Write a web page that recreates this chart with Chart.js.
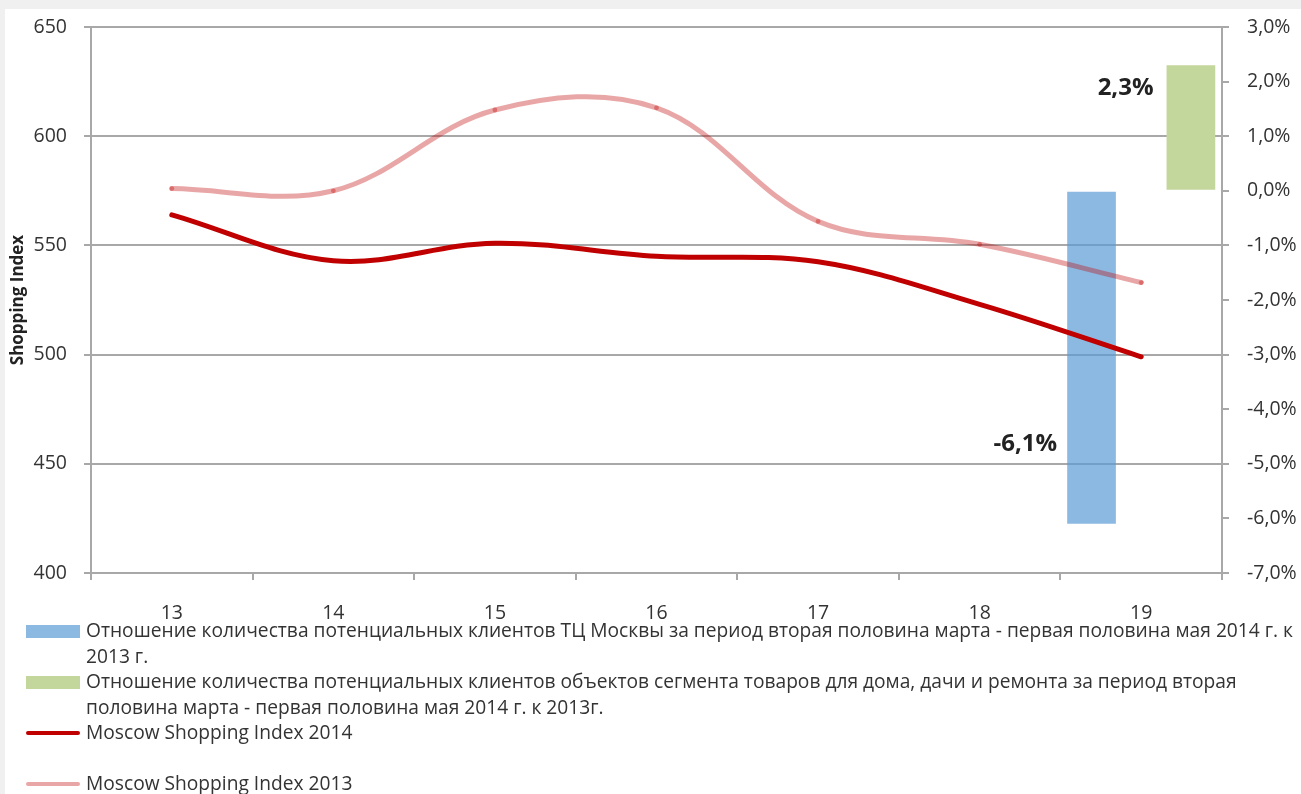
<!DOCTYPE html>
<html><head><meta charset="utf-8">
<script src="https://cdn.jsdelivr.net/npm/chart.js@4.4.1/dist/chart.umd.min.js"></script>
<style>
html,body{margin:0;padding:0;background:#f0f0f0;width:1301px;height:794px;overflow:hidden;font-family:"Open Sans",sans-serif;}
#panel{position:absolute;left:5px;top:9px;right:0;bottom:0;background:#fff;}
#wrap{position:absolute;left:0;top:0;width:1301px;height:620px;}
#legend{position:absolute;left:0;top:0;width:1301px;height:794px;}
.sw{position:absolute;left:26px;width:54px;}
.lt{position:absolute;left:86px;top:617px;font-size:19.2px;line-height:25.5px;color:#333;white-space:nowrap;}
</style></head>
<body>
<div id="panel"></div>
<div id="wrap"><canvas id="c" width="1301" height="620" style="width:1301px;height:620px"></canvas></div>
<div id="legend"></div>
<script>
// ---- data ----
const categories = ['13', '14', '15', '16', '17', '18', '19'];
const msi2014 = [564, 543, 551, 545, 542.5, 523, 499];
const msi2013 = [576, 575, 612, 613, 561, 550.5, 533];
const ratioMoscow = [null, null, null, null, null, null, -6.1];
const ratioHome = [null, null, null, null, null, null, 2.3];
const leftTicks = [400, 450, 500, 550, 600, 650];
const rightTicks = [-7, -6, -5, -4, -3, -2, -1, 0, 1, 2, 3];
const seriesNames = [
  'Отношение количества потенциальных клиентов ТЦ Москвы за период вторая половина марта - первая половина мая 2014 г. к 2013 г.',
  'Отношение количества потенциальных клиентов объектов сегмента товаров для дома, дачи и ремонта за период вторая половина марта - первая половина мая 2014 г. к 2013г.',
  'Moscow Shopping Index 2014',
  'Moscow Shopping Index 2013'
];
const yTitle = 'Shopping Index';

// ---- styles ----
const FONT = '"Open Sans", sans-serif';
const GRID = '#a8a8a8';
const TXT = '#333333';
const blue = 'rgba(91,155,213,0.7)';
const green = '#c3d69b';
const red = '#c00000';
const pink = 'rgba(192,0,0,0.35)';

const fmtPct = v => v.toFixed(1).replace('.', ',') + '%';

const barLabelPlugin = {
  id: 'barLabels',
  afterDatasetsDraw(chart, args, opts) {
    const ctx = chart.ctx;
    const y1 = chart.scales.y1;
    ctx.save();
    ctx.font = 'bold 24px ' + FONT;
    ctx.fillStyle = '#222';
    ctx.textAlign = 'right';
    ctx.textBaseline = 'alphabetic';
    opts.items.forEach(it => {
      const meta = chart.getDatasetMeta(it.dataset);
      const ds = chart.data.datasets[it.dataset];
      meta.data.forEach((el, i) => {
        const v = ds.data[i];
        if (v === null || v === undefined) return;
        const x = el.x - el.width / 2 - it.gap;
        const y = y1.getPixelForValue(it.at) + 8.6;
        ctx.fillText(fmtPct(v), x, y);
      });
    });
    ctx.restore();
  }
};

new Chart(document.getElementById('c'), {
  data: {
    labels: categories,
    datasets: [
      { type: 'line', label: seriesNames[2], data: msi2014, yAxisID: 'y', order: 0,
        borderColor: red, borderWidth: 5, borderCapStyle: 'round', tension: 0.36,
        pointRadius: 0, fill: false },
      { type: 'line', label: seriesNames[3], data: msi2013, yAxisID: 'y', order: 1,
        borderColor: pink, borderWidth: 5, borderCapStyle: 'round', tension: 0.36,
        pointRadius: 2.4, pointBackgroundColor: pink, pointBorderWidth: 0, fill: false },
      { type: 'bar', label: seriesNames[0], data: ratioMoscow, yAxisID: 'y1', order: 2,
        backgroundColor: blue, categoryPercentage: 1.23, barPercentage: 0.49 },
      { type: 'bar', label: seriesNames[1], data: ratioHome, yAxisID: 'y1', order: 3,
        backgroundColor: green, categoryPercentage: 1.23, barPercentage: 0.49 }
    ]
  },
  options: {
    responsive: false,
    animation: false,
    layout: { padding: { top: 27, left: 0, right: 0, bottom: 0 } },
    plugins: {
      legend: { display: false },
      tooltip: { enabled: false },
      barLabels: { items: [ { dataset: 2, at: -4.6, gap: 10 }, { dataset: 3, at: 1.92, gap: 13 } ] }
    },
    scales: {
      x: {
        type: 'category',
        offset: true,
        grid: { offset: true, drawOnChartArea: false, drawTicks: true, tickLength: 7, color: GRID, lineWidth: 2 },
        border: { color: GRID, width: 2 },
        ticks: { color: TXT, font: { family: FONT, size: 19.5 }, padding: 22, maxRotation: 0 },
        afterFit: s => { s.height = 47; s.paddingLeft = 0; s.paddingRight = 0; }
      },
      y: {
        position: 'left',
        min: 400, max: 650,
        afterBuildTicks: s => { s.ticks = leftTicks.map(v => ({ value: v })); },
        grid: { color: GRID, lineWidth: 2, tickLength: 7, drawTicks: true },
        border: { color: GRID, width: 2 },
        ticks: { color: TXT, font: { family: FONT, size: 19.5 }, padding: 17 },
        title: { display: true, text: yTitle, color: '#222', font: { family: FONT, size: 17, weight: 'bold' }, padding: { top: 8, bottom: 0 } },
        afterFit: s => { s.width = 91; s.paddingTop = 0; s.paddingBottom = 0; }
      },
      y1: {
        position: 'right',
        min: -7, max: 3,
        afterBuildTicks: s => { s.ticks = rightTicks.map(v => ({ value: v })); },
        grid: { drawOnChartArea: false, color: GRID, lineWidth: 2, tickLength: 7, drawTicks: true },
        border: { color: GRID, width: 2 },
        ticks: { color: TXT, font: { family: FONT, size: 19.5 }, padding: 18, callback: v => fmtPct(v) },
        afterFit: s => { s.width = 79; s.paddingTop = 0; s.paddingBottom = 0; }
      }
    }
  },
  plugins: [barLabelPlugin]
});

// ---- HTML legend (wrapped like the original) ----
const legendLines = [
  ['Отношение количества потенциальных клиентов ТЦ Москвы за период вторая половина марта - первая половина мая 2014 г. к', '2013 г.'],
  ['Отношение количества потенциальных клиентов объектов сегмента товаров для дома, дачи и ремонта за период вторая', 'половина марта - первая половина мая 2014 г. к 2013г.'],
  ['Moscow Shopping Index 2014', ''],
  ['Moscow Shopping Index 2013']
];
const swatches = [
  { color: blue, top: 625, h: 13 },
  { color: green, top: 676, h: 13 },
  { color: red, top: 731, h: 4 },
  { color: pink, top: 782, h: 4 }
];
const lg = document.getElementById('legend');
swatches.forEach(s => {
  const d = document.createElement('div');
  d.className = 'sw';
  d.style.top = s.top + 'px';
  d.style.height = s.h + 'px';
  d.style.background = s.color;
  if (s.h < 6) d.style.borderRadius = '2px';
  lg.appendChild(d);
});
const txt = document.createElement('div');
txt.className = 'lt';
legendLines.forEach(lines => lines.forEach(l => {
  const d = document.createElement('div');
  d.textContent = l || '\u00a0';
  txt.appendChild(d);
}));
lg.appendChild(txt);
</script>
</body></html>
